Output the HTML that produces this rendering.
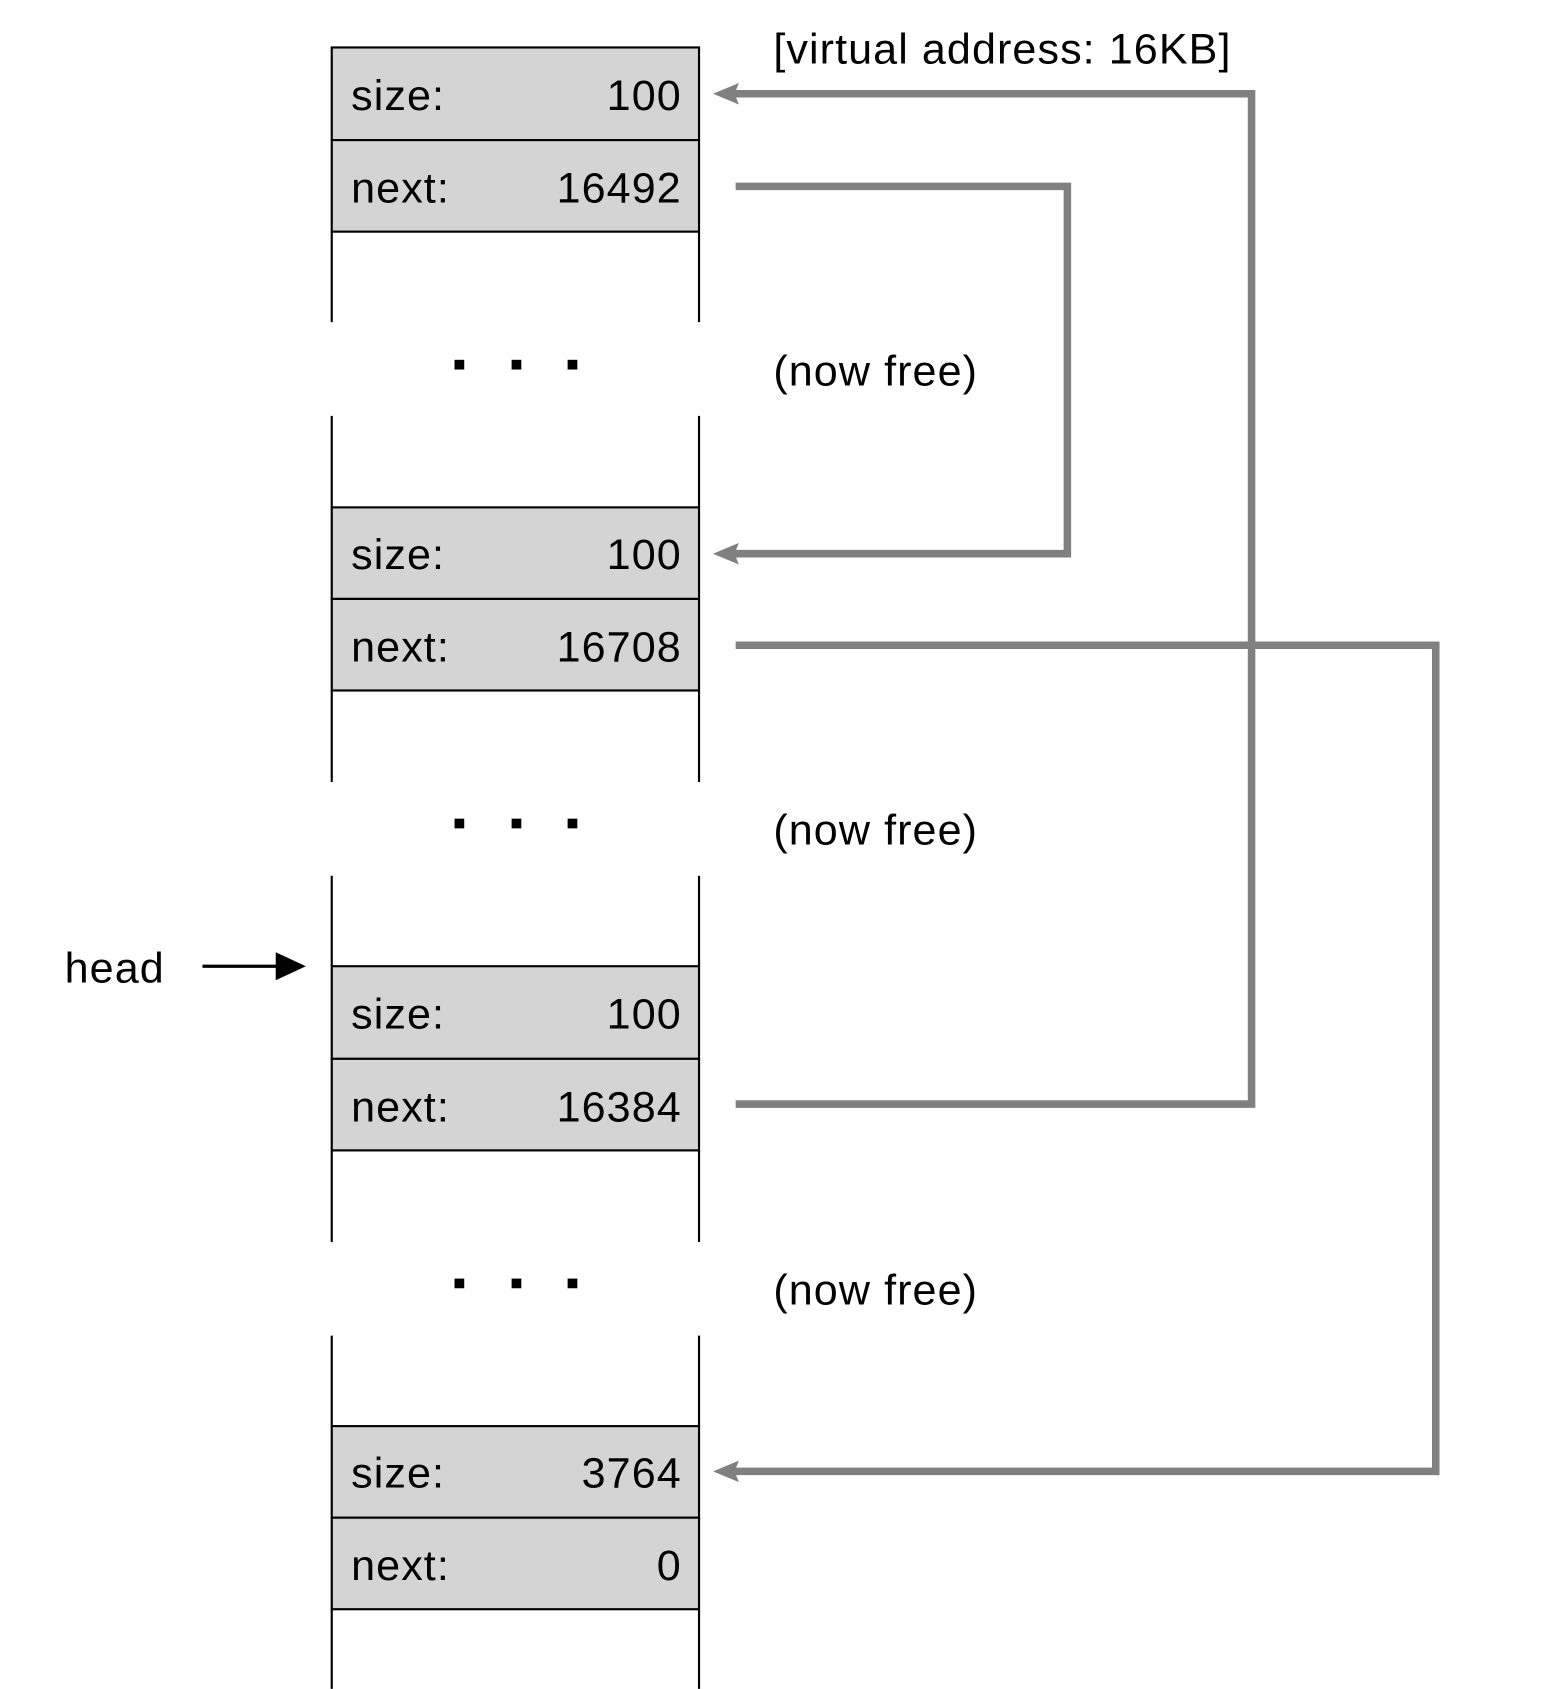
<!DOCTYPE html>
<html><head><meta charset="utf-8"><style>html,body{margin:0;padding:0;background:#fff}svg{display:block}text{letter-spacing:1px}</style></head>
<body>
<svg width="1551" height="1689" viewBox="0 0 1440 1568" xmlns="http://www.w3.org/2000/svg" font-family="Liberation Sans, sans-serif" font-size="40">
<g stroke="#000" stroke-width="2" fill="#d4d4d4">
<rect x="308" y="44" width="341" height="86"/><rect x="308" y="130" width="341" height="85"/>
<rect x="308" y="471" width="341" height="85"/><rect x="308" y="556" width="341" height="85"/>
<rect x="308" y="897" width="341" height="86"/><rect x="308" y="983" width="341" height="85"/>
<rect x="308" y="1324" width="341" height="85"/><rect x="308" y="1409" width="341" height="85"/>
</g>
<g stroke="#000" stroke-width="2">
<line x1="308" y1="215" x2="308" y2="299"/><line x1="649" y1="215" x2="649" y2="299"/>
<line x1="308" y1="386" x2="308" y2="471"/><line x1="649" y1="386" x2="649" y2="471"/>
<line x1="308" y1="641" x2="308" y2="726"/><line x1="649" y1="641" x2="649" y2="726"/>
<line x1="308" y1="813" x2="308" y2="897"/><line x1="649" y1="813" x2="649" y2="897"/>
<line x1="308" y1="1068" x2="308" y2="1153"/><line x1="649" y1="1068" x2="649" y2="1153"/>
<line x1="308" y1="1240" x2="308" y2="1324"/><line x1="649" y1="1240" x2="649" y2="1324"/>
<line x1="308" y1="1494" x2="308" y2="1568"/><line x1="649" y1="1494" x2="649" y2="1568"/>
</g>
<g fill="#000">
<rect x="422" y="334" width="9" height="9"/><rect x="475" y="334" width="9" height="9"/><rect x="527" y="334" width="9" height="9"/>
<rect x="422" y="760" width="9" height="9"/><rect x="475" y="760" width="9" height="9"/><rect x="527" y="760" width="9" height="9"/>
<rect x="422" y="1187" width="9" height="9"/><rect x="475" y="1187" width="9" height="9"/><rect x="527" y="1187" width="9" height="9"/>
</g>
<g fill="#000">
<text x="326" y="102">size:</text><text x="633" y="102" text-anchor="end">100</text>
<text x="326" y="188">next:</text><text x="633" y="188" text-anchor="end">16492</text>
<text x="326" y="528">size:</text><text x="633" y="528" text-anchor="end">100</text>
<text x="326" y="614">next:</text><text x="633" y="614" text-anchor="end">16708</text>
<text x="326" y="955">size:</text><text x="633" y="955" text-anchor="end">100</text>
<text x="326" y="1041">next:</text><text x="633" y="1041" text-anchor="end">16384</text>
<text x="326" y="1381">size:</text><text x="633" y="1381" text-anchor="end">3764</text>
<text x="326" y="1467">next:</text><text x="633" y="1467" text-anchor="end">0</text>
<text x="718" y="59">[virtual address: 16KB]</text>
<text x="718" y="358">(now free)</text>
<text x="718" y="784">(now free)</text>
<text x="718" y="1211">(now free)</text>
<text x="60" y="912">head</text>
</g>
<g stroke="#808080" stroke-width="7" fill="none">
<polyline points="683,1025 1162,1025 1162,87 680,87"/>
<polyline points="683,173 991,173 991,514 680,514"/>
<polyline points="683,599 1333,599 1333,1366 680,1366"/>
</g>
<g fill="#808080">
<polygon points="662,87 686,77 682,87 686,97"/>
<polygon points="662,514 686,504 682,514 686,524"/>
<polygon points="662,1366 686,1356 682,1366 686,1376"/>
</g>
<line x1="188" y1="897" x2="260" y2="897" stroke="#000" stroke-width="3"/>
<polygon points="284,897 256,884 256,910" fill="#000"/>
</svg>
</body></html>
